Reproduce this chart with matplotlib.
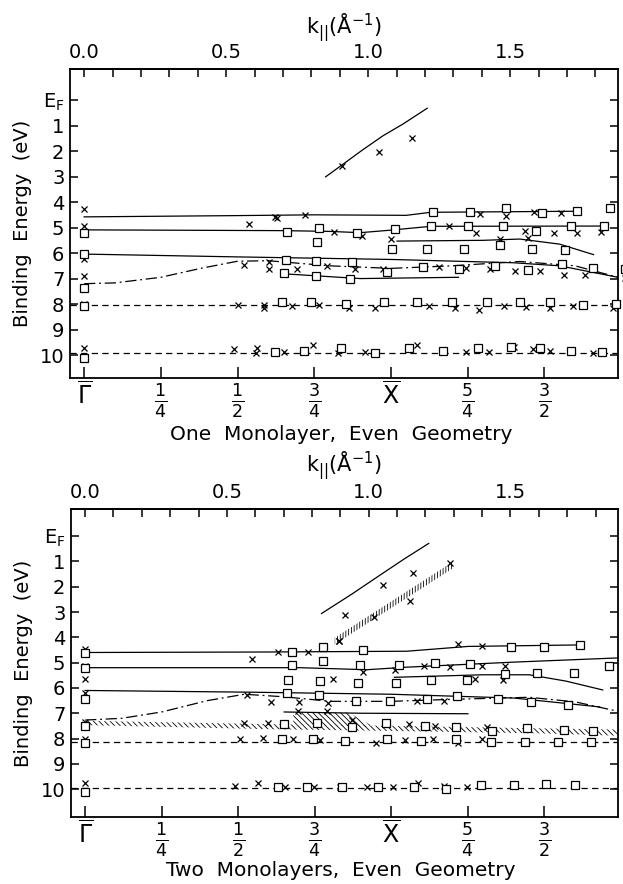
import numpy as np
import matplotlib
matplotlib.use('Agg')
import matplotlib.pyplot as plt
from matplotlib.ticker import MultipleLocator

plt.rcParams['font.family'] = ['DejaVu Sans']
plt.rcParams['mathtext.fontset'] = 'dejavusans'
plt.rcParams['hatch.linewidth'] = 0.6

KX = 1.08  # k at X-bar (1/A); bottom axis is k in units of Gamma-X

# ---------------- one monolayer ----------------
one_cross_f = [0, 0, 0, 0, 0, 0,
               0.539, 0.622, 0.628, 0.72, 1.29, 1.375, 1.467, 1.553,
               0.813, 0.905, 1.0, 1.19, 1.276, 1.437, 1.53, 1.605, 1.684,
               1.355, 1.447,
               0.52, 0.603, 0.603, 0.695, 0.793, 0.882, 0.974, 1.158, 1.243, 1.322,
               1.404, 1.487, 1.563, 1.632, 1.763,
               0.503, 0.586, 0.586, 0.678, 0.767, 0.862, 0.947, 1.125, 1.21, 1.287,
               1.368, 1.441, 1.52, 1.592, 1.724,
               0.487, 0.562, 0.559, 0.651, 0.746, 0.826, 0.914, 1.086, 1.243, 1.318,
               1.401, 1.463, 1.52, 1.658,
               0.84, 0.96, 1.07]
one_cross_E = [4.29, 4.94, 6.23, 6.9, 8.0, 9.71,
               4.84, 4.58, 4.62, 4.5, 4.45, 4.55, 4.38, 4.42,
               5.16, 5.32, 5.43, 4.94, 5.2, 5.13, 5.2, 5.2, 5.17,
               5.45, 5.39,
               6.47, 6.36, 6.62, 6.62, 6.49, 6.62, 6.62, 6.56, 6.6, 6.62,
               6.69, 6.69, 6.86, 6.86, 6.99,
               8.03, 8.03, 8.16, 8.09, 8.04, 8.16, 8.16, 8.09, 8.16, 8.22,
               8.09, 8.12, 8.16, 8.09, 8.14,
               9.78, 9.74, 9.9, 9.87, 9.61, 9.9, 9.87, 9.61, 9.87, 9.87,
               9.7, 9.77, 9.84, 9.9,
               2.6, 2.05, 1.49]
one_sq_f = [0, 0, 0, 0, 0,
            1.138, 1.257, 1.375, 1.493, 1.605, 1.713,
            0.662, 0.766, 0.759, 0.888, 1.013, 1.129, 1.25, 1.366, 1.474, 1.586, 1.693,
            1.004, 1.118, 1.239, 1.355, 1.461, 1.566,
            0.658, 0.651, 0.757, 0.757, 0.868, 0.872, 0.987, 1.103, 1.221, 1.339,
            1.447, 1.559, 1.658, 1.763,
            0.645, 0.741, 0.855, 0.978, 1.086, 1.2, 1.313, 1.421, 1.52, 1.625, 1.734,
            0.622, 0.717, 0.836, 0.947, 1.059, 1.171, 1.283, 1.392, 1.487, 1.586, 1.688]
one_sq_E = [5.22, 6.04, 7.38, 8.08, 10.1,
            4.39, 4.38, 4.23, 4.42, 4.34, 4.23,
            5.16, 5.0, 5.58, 5.22, 5.04, 4.94, 4.94, 4.94, 5.13, 4.94, 4.94,
            5.84, 5.84, 5.84, 5.69, 5.84, 5.87,
            6.26, 6.78, 6.3, 6.88, 7.01, 6.36, 6.75, 6.56, 6.62, 6.52,
            6.65, 6.43, 6.6, 6.62,
            7.92, 7.92, 7.99, 7.92, 7.9, 7.92, 7.9, 7.92, 7.92, 8.03, 7.99,
            9.87, 9.83, 9.74, 9.91, 9.74, 9.83, 9.74, 9.7, 9.74, 9.83, 9.87]

one_b1_f = [0, 0.5, 0.75, 1.05, 1.13, 1.6]
one_b1_E = [4.58, 4.53, 4.5, 4.52, 4.4, 4.36]
one_b2_f = [0, 0.65, 0.8, 0.9, 1.0, 1.13, 1.7]
one_b2_E = [5.09, 5.12, 5.15, 5.2, 5.1, 4.95, 4.94]
one_b3_f = [1.02, 1.3, 1.42, 1.55, 1.66]
one_b3_E = [5.53, 5.5, 5.45, 5.65, 6.06]
one_b4_f = [0, 0.5, 1.0, 1.4, 1.55, 1.74]
one_b4_E = [6.04, 6.15, 6.25, 6.38, 6.5, 6.95]
one_b5_f = [0.66, 0.9, 1.22]
one_b5_E = [6.82, 7.0, 6.95]
one_sp_f = [0.787, 0.842, 0.908, 0.974, 1.039, 1.118]
one_sp_E = [3.01, 2.53, 1.95, 1.4, 0.94, 0.32]
one_dd_f = [0, 0.1, 0.25, 0.38, 0.5, 0.6, 0.8, 1.0, 1.2, 1.42, 1.6, 1.74]
one_dd_E = [7.2, 7.17, 6.95, 6.6, 6.32, 6.3, 6.5, 6.6, 6.5, 6.33, 6.5, 6.95]
one_flat_E = [8.05, 9.93]

# ---------------- two monolayers ----------------
two_cross_f = [0, 0, 0, 0, 0, 0, 0,
               0.544, 0.631, 0.727, 0.828, 1.217, 1.297, 1.39,
               0.908, 1.011, 1.108, 1.191, 1.297, 1.371,
               0.808, 1.273, 1.364,
               0.528, 0.607, 0.7, 0.793, 1.084, 1.171,
               0.695, 0.791,
               0.52, 0.597, 0.871, 1.057, 1.141, 1.311,
               0.507, 0.581, 0.68, 0.768, 0.951, 1.044, 1.137, 1.217, 1.297,
               0.491, 0.564, 0.653, 0.748, 0.831, 0.921, 1.004, 1.088, 1.171, 1.247,
               1.191, 1.072, 0.974, 0.85, 0.943, 1.062, 0.83]
two_cross_E = [4.45, 5.15, 5.66, 6.2, 7.34, 8.03, 9.76,
               4.86, 4.59, 4.59, 4.15, 4.28, 4.35, 4.38,
               5.39, 5.28, 5.15, 5.18, 5.13, 5.13,
               5.66, 5.66, 5.69,
               6.26, 6.57, 6.57, 6.6, 6.53, 6.53,
               6.93, 6.93,
               7.4, 7.4, 7.27, 7.43, 7.5, 7.56,
               8.01, 7.96, 8.03, 8.05, 8.19, 8.05, 8.03, 8.19, 8.03,
               9.87, 9.77, 9.93, 9.9, 9.9, 9.93, 9.93, 9.74, 9.86, 9.93,
               1.07, 1.44, 1.93, 3.1, 3.2, 2.58, 4.15]
two_sq_f = [0, 0, 0, 0, 0, 0,
            0.677, 0.777, 0.909, 1.39, 1.497, 1.617,
            0.677, 0.777, 0.897, 1.024, 1.144, 1.257,
            0.664, 0.768, 0.891, 1.015, 1.131, 1.248, 1.371, 1.477, 1.597, 1.711,
            0.66, 0.764, 0.884, 0.997, 1.117, 1.215, 1.348, 1.457, 1.577,
            0.651, 0.757, 0.871, 0.984, 1.111, 1.211, 1.327, 1.444, 1.564, 1.657,
            0.644, 0.744, 0.848, 0.987, 1.097, 1.211, 1.324, 1.437, 1.544, 1.651,
            0.631, 0.724, 0.84, 0.957, 1.073, 1.177, 1.293, 1.401, 1.504, 1.601]
two_sq_E = [4.63, 5.2, 6.44, 7.51, 8.16, 10.1,
            4.59, 4.38, 4.51, 4.38, 4.38, 4.32,
            5.08, 4.95, 5.08, 5.08, 5.02, 5.05,
            5.69, 5.72, 5.82, 5.82, 5.69, 5.69, 5.45, 5.42, 5.42, 5.15,
            6.22, 6.26, 6.53, 6.5, 6.44, 6.33, 6.44, 6.57, 6.66,
            7.44, 7.4, 7.56, 7.4, 7.5, 7.54, 7.7, 7.6, 7.67, 7.7,
            8.03, 8.03, 8.08, 8.01, 8.08, 8.03, 8.12, 8.12, 8.12, 8.12,
            9.93, 9.93, 9.93, 9.9, 9.9, 9.99, 9.85, 9.85, 9.79, 9.85]

two_b1_f = [0, 0.6, 1.05, 1.25, 1.62]
two_b1_E = [4.6, 4.58, 4.55, 4.36, 4.3]
two_b2_f = [0, 0.7, 0.92, 1.05, 1.4, 1.77]
two_b2_E = [5.2, 5.2, 5.28, 5.18, 4.98, 4.8]
two_b3_f = [1.01, 1.3, 1.45, 1.57, 1.69]
two_b3_E = [5.58, 5.48, 5.48, 5.73, 6.08]
two_b4_f = [0, 0.55, 1.0, 1.4, 1.68]
two_b4_E = [6.1, 6.17, 6.25, 6.4, 6.75]
two_b5_f = [0.65, 0.9, 1.25]
two_b5_E = [6.95, 7.0, 7.02]
two_sp_f = [0.772, 0.87, 0.956, 1.04, 1.122]
two_sp_E = [3.06, 2.3, 1.6, 0.92, 0.29]
two_dd_f = [0, 0.12, 0.25, 0.4, 0.52, 0.65, 0.8, 1.0, 1.2, 1.45, 1.6, 1.75]
two_dd_E = [7.27, 7.2, 6.95, 6.5, 6.25, 6.35, 6.53, 6.53, 6.45, 6.37, 6.55, 6.95]
two_flat_E = [8.12, 9.94]
# hatched regions
two_hband_f = [0, 0.6, 1.0, 1.5, 1.77]
two_hband_top = [7.3, 7.43, 7.5, 7.6, 7.65]
two_hband_bot = [7.47, 7.63, 7.7, 7.8, 7.9]
two_wedge_f = [0.68, 0.86, 0.93]
two_wedge_top = [7.0, 6.97, 7.45]
two_wedge_bot = [7.45, 7.5, 7.53]
two_spband_f = [0.815, 1.2]
two_spband_E = [4.15, 1.15]

bot_ticks = [0, 0.25, 0.5, 0.75, 1.0, 1.25, 1.5]
bot_labels = [r'$\overline{\Gamma}$', r'$\frac{1}{4}$', r'$\frac{1}{2}$', r'$\frac{3}{4}$',
              r'$\overline{\mathrm{X}}$', r'$\frac{5}{4}$', r'$\frac{3}{2}$']
e_ticks = list(range(11))
e_labels = [r'E$_\mathrm{F}$'] + [str(i) for i in range(1, 11)]
top_ticks = [0.0, 0.5, 1.0, 1.5]
top_labels = ['0.0', '0.5', '1.0', '1.5']

fig = plt.figure(figsize=(6.23, 8.84), dpi=100)
ax1 = fig.add_axes([70/623, 1-378/884, 548/623, 309/884])
ax2 = fig.add_axes([71/623, 1-817/884, 547/623, 308/884])

lw = 0.9


def draw(ax, cf, cE, sf, sE, bands, spf, spE, ddf, ddE, flats, ylim):
    for bf, bE in bands:
        ax.plot(bf, bE, color='k', lw=lw, zorder=2)
    ax.plot(spf, spE, color='k', lw=lw, zorder=2)
    ax.plot(ddf, ddE, color='k', lw=lw, ls=(0, (9, 3, 1.5, 3)), zorder=2)
    for e in flats:
        ax.axhline(e, color='k', lw=lw, ls=(0, (5, 3.5)), zorder=2)
    ax.plot(cf, cE, ls='none', marker='x', ms=4.2, mew=0.9, color='k',
            zorder=4, clip_on=False)
    ax.plot(sf, sE, ls='none', marker='s', ms=5.2, mew=0.9, mfc='white',
            mec='k', zorder=5, clip_on=False)
    ax.set_xlim(-0.046, 1.74)
    ax.set_ylim(*ylim)
    ax.set_xticks(bot_ticks)
    ax.set_xticklabels(bot_labels)
    for i, t in enumerate(ax.get_xticklabels()):
        t.set_fontsize(17 if i in (0, 4) else 18)
    ax.set_yticks(e_ticks)
    ax.set_yticklabels(e_labels, fontsize=14)
    ax.tick_params(axis='x', direction='in', length=8, width=1.1, pad=3)
    ax.tick_params(axis='y', direction='in', length=6, width=1.1, right=True, pad=4)
    for s in ax.spines.values():
        s.set_linewidth(1.3)
    ax.set_ylabel('Binding  Energy  (eV)', fontsize=14)
    ax.yaxis.set_label_coords(-0.069, 0.5)
    sec = ax.secondary_xaxis('top', functions=(lambda f: f*KX, lambda k: k/KX))
    sec.set_xticks(top_ticks)
    sec.set_xticklabels(top_labels, fontsize=14)
    sec.xaxis.set_minor_locator(MultipleLocator(0.1))
    sec.tick_params(which='both', direction='in', length=6, width=1.1, pad=5)
    sec.spines['top'].set_linewidth(1.3)


draw(ax1, one_cross_f, one_cross_E, one_sq_f, one_sq_E,
     [(one_b1_f, one_b1_E), (one_b2_f, one_b2_E), (one_b3_f, one_b3_E),
      (one_b4_f, one_b4_E), (one_b5_f, one_b5_E)],
     one_sp_f, one_sp_E, one_dd_f, one_dd_E, one_flat_E, (10.9, -1.22))
draw(ax2, two_cross_f, two_cross_E, two_sq_f, two_sq_E,
     [(two_b1_f, two_b1_E), (two_b2_f, two_b2_E), (two_b3_f, two_b3_E),
      (two_b4_f, two_b4_E), (two_b5_f, two_b5_E)],
     two_sp_f, two_sp_E, two_dd_f, two_dd_E, two_flat_E, (11.1, -1.07))

ax2.fill_between(two_hband_f, two_hband_top, two_hband_bot, facecolor='none',
                 edgecolor='k', hatch='\\\\\\\\\\\\', lw=0, zorder=1)
ax2.fill_between(two_wedge_f, two_wedge_top, two_wedge_bot, facecolor='none',
                 edgecolor='k', hatch='\\\\\\\\\\\\', lw=0, zorder=1)
spb = np.array(two_spband_E)
ax2.fill_between(two_spband_f, spb - 0.13, spb + 0.13, facecolor='none',
                 edgecolor='k', hatch='||||||', lw=0, zorder=1)

klab = r'k$_{||}$(Å$^{-1}$)'
fig.text(344/623, 1-28/884, klab, ha='center', va='center', fontsize=15)
fig.text(344/623, 1-466/884, klab, ha='center', va='center', fontsize=15)
fig.text(341/623, 1-434/884, 'One  Monolayer,  Even  Geometry', ha='center',
         va='center', fontsize=14.5)
fig.text(341/623, 1-870/884, 'Two  Monolayers,  Even  Geometry', ha='center',
         va='center', fontsize=14.5)

fig.savefig('out.png', dpi=100)
